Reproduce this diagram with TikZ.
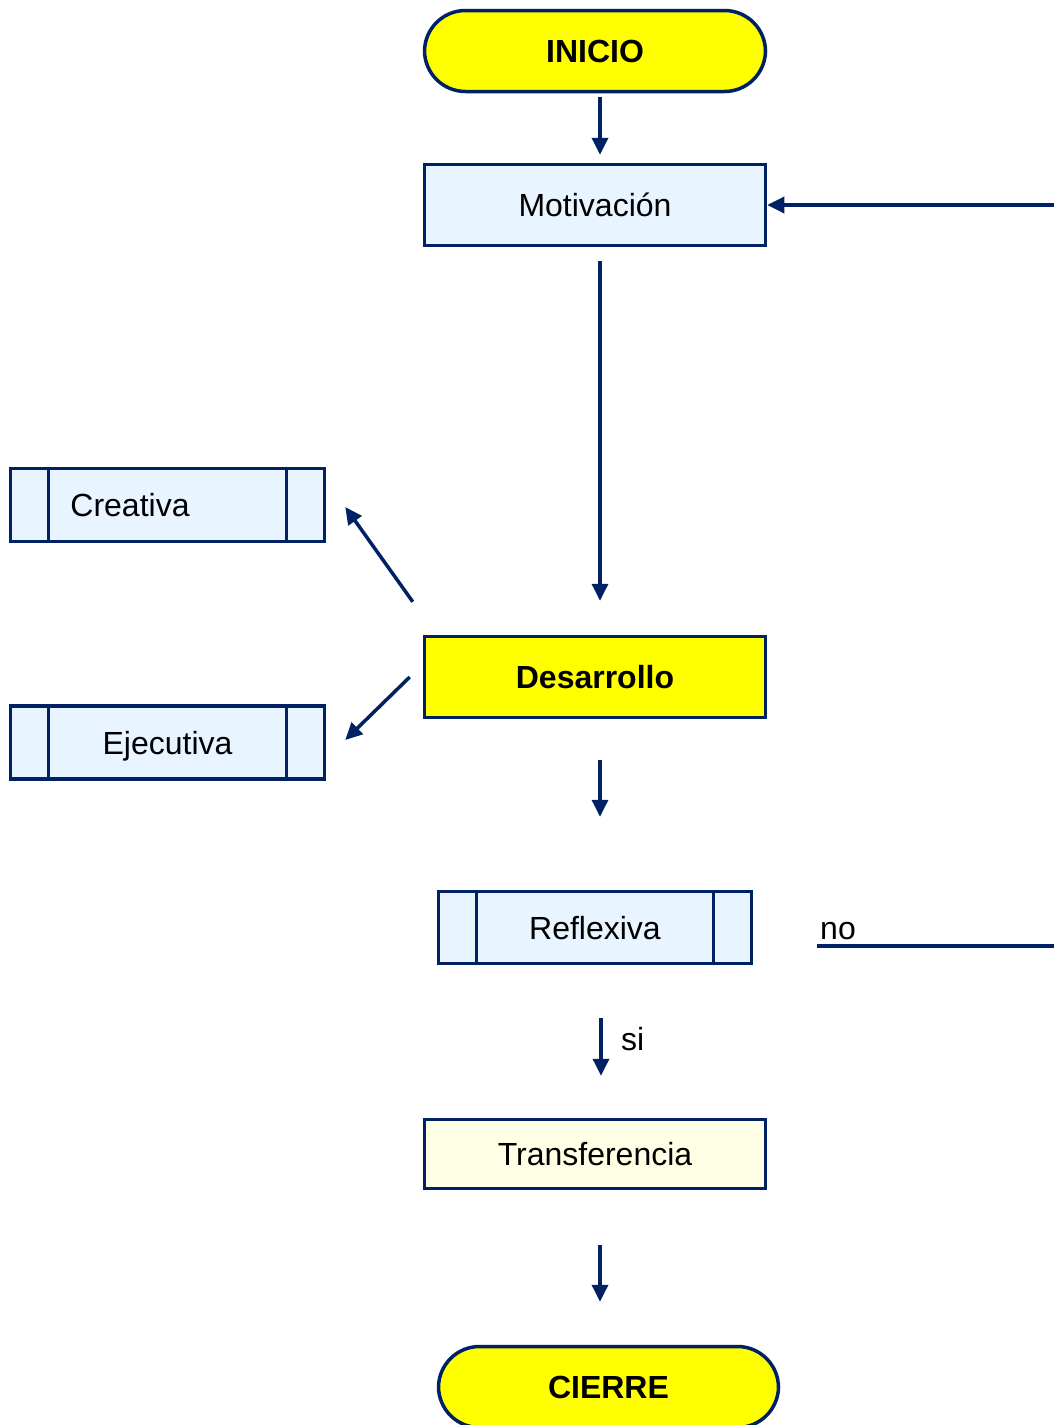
\documentclass[tikz,border=0pt]{standalone}
\usepackage{fontspec}
\setmainfont{Liberation Sans}
\usetikzlibrary{arrows.meta, positioning}

\definecolor{navy}{RGB}{0,33,99}
\definecolor{paleblue}{RGB}{232,244,255}
\definecolor{cream}{RGB}{255,255,230}
\definecolor{brightyellow}{RGB}{255,255,0}

\tikzset{
    txt/.style={font=\fontsize{32}{38}\selectfont, text height=23pt, text depth=0pt},
    term/.style={txt, draw=navy, line width=3.5pt, fill=brightyellow, rounded corners=41pt,
        minimum width=341pt, minimum height=81pt, font=\fontsize{32}{38}\selectfont\bfseries},
    proc/.style={txt, draw=navy, line width=3.5pt, fill=paleblue,
        minimum width=341pt, minimum height=81pt},
    subproc/.style={proc, minimum width=314pt, minimum height=73pt,
        path picture={\draw[navy, line width=3.5pt]
            ([xshift=38pt]path picture bounding box.north west) -- ([xshift=38pt]path picture bounding box.south west)
            ([xshift=-38pt]path picture bounding box.north east) -- ([xshift=-38pt]path picture bounding box.south east);}},
    arr/.style={navy, line width=3.5pt, -{Triangle[length=17pt, width=16pt]}},
    lbl/.style={font=\fontsize{32}{38}\selectfont, inner sep=0pt}
}

\begin{document}
\begin{tikzpicture}[x=1pt, y=-1pt]
    \useasboundingbox (0,0) rectangle (1054,1425);

    % Main column
    \node[term] (ini) at (595,51) {INICIO};
    \node[proc] (mot) at (595,205) {Motivación};
    \node[proc, fill=brightyellow, font=\fontsize{32}{38}\selectfont\bfseries] (des) at (595,677) {Desarrollo};
    \node[subproc, minimum width=313pt, minimum height=72pt] (refl) at (595,927.5) {Reflexiva};
    \node[proc, fill=cream, minimum height=69pt] (trans) at (595,1154) {Transferencia};
    \node[term, minimum width=340pt] (cie) at (608.5,1387) {CIERRE};

    % Side boxes
    \node[subproc] (cre) at (167.5,505) {Creativa\hspace*{75pt}};
    \node[subproc] (eje) at (167.5,742.5) {Ejecutiva};

    % Arrows down
    \draw[arr, shorten <=4pt, shorten >=8pt] ([xshift=5pt]ini.south) -- ([xshift=5pt]mot.north);
    \draw[arr, shorten <=14pt, shorten >=34pt] ([xshift=5pt]mot.south) -- ([xshift=5pt]des.north);
    \draw[arr, shorten <=41pt, shorten >=73pt] ([xshift=5pt]des.south) -- ([xshift=5pt]refl.north);
    \draw[arr, shorten <=53pt, shorten >=42pt] ([xshift=6pt]refl.south) -- ([xshift=6pt]trans.north);
    \draw[arr, shorten <=55pt, shorten >=43pt] ([xshift=5pt]trans.south) -- ([xshift=5pt]trans.south |- cie.north);
    \node[lbl, anchor=base west] (si) at (621,1050) {si};

    % Branches
    \draw[arr] ([shift={(-10,-33)}]des.north west) -- ([shift={(19,2)}]cre.east);
    \draw[arr] ([shift={(-13,0)}]des.west) -- ([shift={(19,-2.5)}]eje.east);

    % Loop back
    \coordinate (noend) at (1054,946);
    \coordinate (fbin) at (1054,205);
    \draw[navy, line width=3.5pt] ([shift={(64,18.5)}]refl.east) -- (noend);
    \node[lbl, anchor=base west] (no) at (820,939) {no};
    \draw[arr] (fbin) -- (mot.east);
\end{tikzpicture}
\end{document}
